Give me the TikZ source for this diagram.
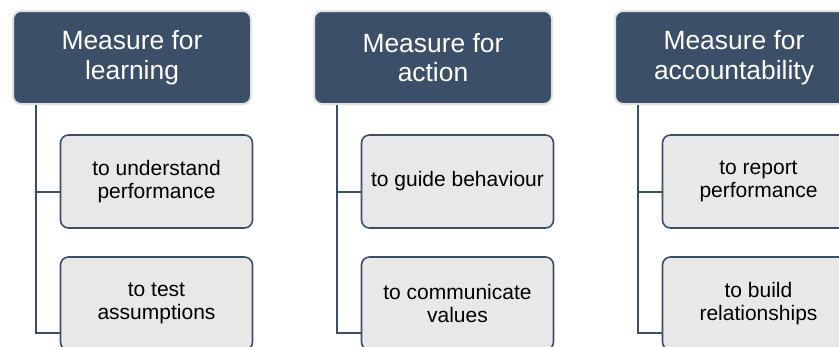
\documentclass[tikz,border=0pt]{standalone}
\usepackage{fontspec}
\setmainfont{Liberation Sans}
\usetikzlibrary{positioning}
\usetikzlibrary{calc}

\definecolor{slate}{HTML}{3B5068}
\definecolor{rim}{HTML}{E3E3E3}
\definecolor{paper}{HTML}{E8E8E8}

\begin{document}
\begin{tikzpicture}[
    x=1pt, y=-1pt,
    head/.style={align=center, rectangle, rounded corners=8pt, fill=slate, draw=rim, line width=2pt,
        text=white, minimum width=238pt, minimum height=93pt, font=\fontsize{26.4}{29.5}\selectfont},
    item/.style={align=center, rectangle, rounded corners=8pt, fill=paper, draw=slate, line width=1.6pt,
        minimum width=192pt, minimum height=93pt, font=\fontsize{21}{22.5}\selectfont},
    link/.style={draw=slate, line width=2.4pt}
]
    \clip (0,0) rectangle (839,346);

    % Learning
    \node[head] (H1) at (132, 57.5) {Measure for\\learning};
    \node[item] (C1) at ($(H1)+(24.5, 124)$) {to understand\\performance};
    \node[item] (C2) at ($(H1)+(24.5, 246)$) {to test\\assumptions};

    % Action
    \node[head] (H2) [right=61pt of H1] {Measure for\\action};
    \node[item] (C3) at ($(H2)+(24.5, 124)$) {to guide behaviour};
    \node[item] (C4) at ($(H2)+(24.5, 246)$) {to communicate\\values};

    % Accountability
    \node[head] (H3) [right=61pt of H2] {Measure for\\accountability};
    \node[item] (C5) at ($(H3)+(24.5, 124)$) {to report\\performance};
    \node[item] (C6) at ($(H3)+(24.5, 246)$) {to build\\relationships};

    % Tree lines
    \foreach \h/\a/\b in {H1/C1/C2, H2/C3/C4, H3/C5/C6} {
        \coordinate (\h top) at ($(\h.south west)+(24, 0)$);
        \coordinate (\a in) at ($(\a.west)+(0, 10.5)$);
        \coordinate (\b in) at ($(\b.west)+(0, 29.5)$);
        \draw[link] (\h top) |- (\a in);
        \draw[link] (\h top) |- (\b in);
    }
\end{tikzpicture}
\end{document}
